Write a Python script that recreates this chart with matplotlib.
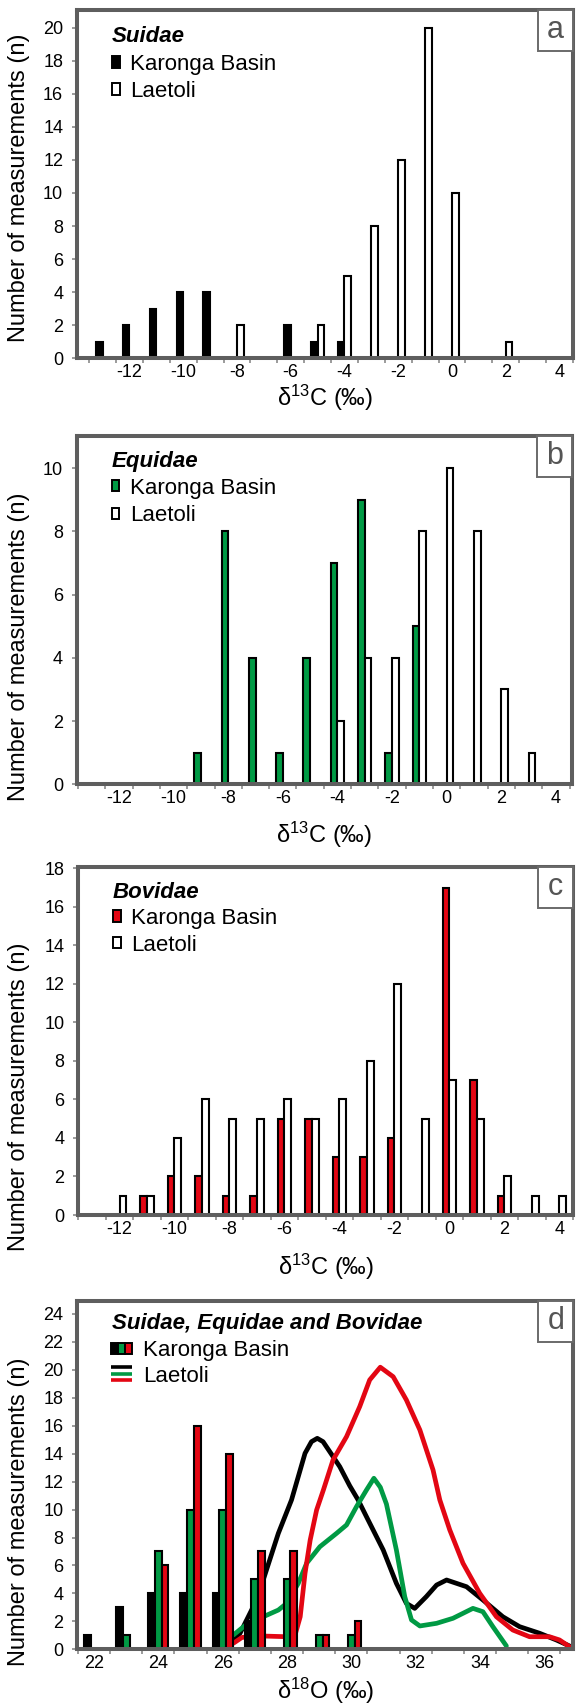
import matplotlib
matplotlib.use('Agg')
import matplotlib.pyplot as plt
from matplotlib.patches import Rectangle
from matplotlib.lines import Line2D

plt.rcParams['font.family'] = ['Liberation Sans', 'DejaVu Sans']
plt.rcParams['mathtext.fontset'] = 'custom'
plt.rcParams['mathtext.rm'] = 'Liberation Sans'
plt.rcParams['axes.unicode_minus'] = False

# ---------------- data ----------------
c13_bins = list(range(-13, 5))          # delta13C classes (permil)

suid_karonga = [1, 2, 3, 4, 4, 0, 0, 2, 1, 1, 0, 0, 0, 0, 0, 0, 0, 0]
suid_laetoli = [0, 0, 0, 0, 0, 2, 0, 0, 2, 5, 8, 12, 20, 10, 0, 1, 0, 0]

equid_karonga = [0, 0, 0, 0, 1, 8, 4, 1, 4, 7, 9, 1, 5, 0, 0, 0, 0, 0]
equid_laetoli = [0, 0, 0, 0, 0, 0, 0, 0, 0, 2, 4, 4, 8, 10, 8, 3, 1, 0]

bov_karonga = [0, 0, 1, 2, 2, 1, 1, 5, 5, 3, 3, 4, 0, 17, 7, 1, 0, 0]
bov_laetoli = [0, 1, 1, 4, 6, 5, 5, 6, 5, 6, 8, 12, 5, 7, 5, 2, 1, 1]

o18_bins = [22, 23, 24, 25, 26, 27, 28, 29, 30]
o18_suid_karonga = [1, 3, 4, 4, 4, 2, 0, 0, 0]
o18_equid_karonga = [0, 1, 7, 10, 10, 5, 5, 1, 1]
o18_bov_karonga = [0, 0, 6, 16, 14, 7, 7, 1, 2]

# Laetoli delta18O distribution curves
lae_suid_x = [26.33, 26.54, 26.95, 27.26, 27.73, 28.14, 28.35, 28.56, 28.76, 28.94,
              29.12, 29.33, 29.64, 29.95, 30.21, 30.47, 30.99, 31.40, 31.71, 31.97,
              32.33, 32.65, 32.96, 33.58, 34.09, 34.71, 35.23, 35.85, 36.37, 36.78]
lae_suid_y = [0.67, 1.15, 3.05, 4.96, 8.30, 10.69, 12.36, 14.03, 14.86, 15.10,
              14.86, 14.14, 13.07, 11.70, 10.69, 9.49, 7.11, 4.72, 3.29, 2.93,
              3.77, 4.60, 4.96, 4.48, 3.53, 2.33, 1.62, 1.15, 0.67, 0.24]

lae_equid_x = [26.33, 26.80, 27.26, 27.73, 27.99, 28.35, 28.61, 29.02, 29.54, 29.85,
               30.16, 30.47, 30.70, 30.90, 31.09, 31.40, 31.66, 31.87, 32.13, 32.65,
               33.16, 33.78, 34.09, 34.40, 34.82]
lae_equid_y = [1.02, 1.90, 2.33, 2.81, 3.29, 4.72, 6.16, 7.34, 8.30, 8.90,
               10.21, 11.40, 12.24, 11.60, 10.40, 7.11, 3.77, 2.10, 1.67, 1.86,
               2.22, 2.93, 2.69, 1.62, 0.24]

lae_bov_x = [26.33, 26.60, 27.26, 27.99, 28.25, 28.41, 28.56, 28.72, 28.92, 29.13,
             29.43, 29.85, 30.26, 30.57, 30.90, 31.30, 31.71, 32.13, 32.54, 32.75,
             33.06, 33.47, 33.99, 34.51, 35.02, 35.54, 36.16, 36.47, 36.78]
lae_bov_y = [0.43, 0.85, 0.95, 0.90, 1.02, 2.33, 5.44, 7.82, 9.97, 11.40,
             13.55, 15.22, 17.37, 19.28, 20.19, 19.51, 17.85, 15.70, 12.83, 10.69,
             8.54, 6.16, 4.01, 2.33, 1.38, 0.90, 0.90, 0.67, 0.19]

# ---------------- style ----------------
W, H = 576, 1703
SPINE = '#5e5e5e'
TICK = '#8a8a8a'
GREEN = '#009a44'
RED = '#e30613'
FS_TICK = 13
FS_LAB = 17
FS_LEG = 16

fig = plt.figure(figsize=(W / 100, H / 100), dpi=100)


def add_ax(left, top, right, bottom):
    ax = fig.add_axes([left / W, 1 - bottom / H, (right - left) / W, (bottom - top) / H])
    ax._px = (left, top, right, bottom)
    return ax


def style(ax, xlim, ylim, xmaj, ymaj, xminor):
    ax.set_xlim(*xlim)
    ax.set_ylim(*ylim)
    for s in ax.spines.values():
        s.set_color(SPINE)
        s.set_linewidth(2.9)
        s.set_zorder(5)
    ax.set_xticks(xmaj)
    ax.set_xticks(xminor, minor=True)
    ax.set_yticks(ymaj)
    ax.tick_params(axis='x', which='major', length=0, pad=4, labelsize=FS_TICK)
    ax.tick_params(axis='x', which='minor', length=3.6, width=1.2, color=TICK, direction='out')
    ax.tick_params(axis='y', which='major', length=3.6, width=1.2, color=TICK,
                   pad=6.3, labelsize=FS_TICK, direction='out')


def labels(ax, xlabel, xl_dy, yl_frac):
    left, top, right, bottom = ax._px
    ax.set_xlabel(xlabel, fontsize=FS_LAB, va='center')
    ax.xaxis.set_label_coords(0.5, -xl_dy / (bottom - top))
    ax.set_ylabel('Number of measurements (n)', fontsize=FS_LAB, va='center')
    ax.yaxis.set_label_coords((19.5 - left) / (right - left), yl_frac)


def panel_letter(ax, letter):
    left, top, right, bottom = ax._px
    w, h = 35, 41
    r = Rectangle(((right - w) / W, 1 - (top + h) / H), w / W, h / H,
                  transform=fig.transFigure, fc='white', ec='#6a6a6a', lw=1.4, zorder=10)
    fig.add_artist(r)
    fig.text((right - w / 2) / W, 1 - (top + h / 2) / H, letter, fontsize=22,
             color='#555555', ha='center', va='center', zorder=11)


def ftext(ax, dx, dy, s, **kw):
    left, top, _, _ = ax._px
    fig.text((left + dx) / W, 1 - (top + dy) / H, s, ha='left', va='baseline',
             fontsize=FS_LEG, zorder=11, **kw)


def frect(ax, dx, dyc, w, h, fc, ec='black', lw=1.4):
    left, top, _, _ = ax._px
    r = Rectangle(((left + dx) / W, 1 - (top + dyc + h / 2) / H), w / W, h / H,
                  transform=fig.transFigure, fc=fc, ec=ec, lw=lw, zorder=11)
    fig.add_artist(r)


def fline(ax, dx0, dx1, dy, color, lw):
    left, top, _, _ = ax._px
    y = 1 - (top + dy) / H
    fig.add_artist(Line2D([(left + dx0) / W, (left + dx1) / W], [y, y],
                          transform=fig.transFigure, color=color, lw=lw,
                          solid_capstyle='butt', zorder=11))


def legend_simple(ax, title, color, dys):
    ftext(ax, 34.5, dys[0] + 7.5, title, fontweight='bold', fontstyle='italic')
    frect(ax, 35, dys[1], 7.5, 11.5, color)
    ftext(ax, 53, dys[1] + 8, 'Karonga Basin')
    frect(ax, 35, dys[2], 7.5, 11.5, 'white')
    ftext(ax, 53, dys[2] + 8, 'Laetoli')


def pair_bars(ax, bins, kar, lae, kcolor, width=0.245):
    kx = [b for b, v in zip(bins, kar) if v > 0]
    kv = [v for v in kar if v > 0]
    lx = [b for b, v in zip(bins, lae) if v > 0]
    lv = [v for v in lae if v > 0]
    ax.bar(kx, kv, width=-width, align='edge', color=kcolor, edgecolor='black',
           linewidth=1.5, zorder=3)
    ax.bar(lx, lv, width=width, align='edge', color='white', edgecolor='black',
           linewidth=1.5, zorder=3)


c13_major = list(range(-12, 5, 2))
c13_minor = [v + 0.5 for v in range(-14, 5)]
c13_label = r'δ$\mathregular{^{13}}$C (‰)'

# ---------------- panel a ----------------
ax = add_ax(77, 10, 573, 358.3)
style(ax, (-13.95, 4.35), (0, 21.07), c13_major, list(range(0, 21, 2)), c13_minor)
pair_bars(ax, c13_bins, suid_karonga, suid_laetoli, 'black')
labels(ax, c13_label, 40, 0.49)
legend_simple(ax, 'Suidae', 'black', (24, 52, 79))
panel_letter(ax, 'a')

# ---------------- panel b ----------------
ax = add_ax(76.7, 436, 571.7, 784.3)
style(ax, (-13.55, 4.58), (0, 11.02), c13_major, list(range(0, 11, 2)), c13_minor)
pair_bars(ax, c13_bins, equid_karonga, equid_laetoli, GREEN)
labels(ax, c13_label, 50.7, 0.395)
legend_simple(ax, 'Equidae', GREEN, (24, 49.7, 77.3))
panel_letter(ax, 'b')

# ---------------- panel c ----------------
ax = add_ax(78.3, 866.7, 573, 1215)
style(ax, (-13.4, 4.5), (0, 18.08), c13_major, list(range(0, 19, 2)), c13_minor)
pair_bars(ax, c13_bins, bov_karonga, bov_laetoli, RED)
labels(ax, c13_label, 52, 0.34)
legend_simple(ax, 'Bovidae', RED, (23.3, 49.3, 76))
panel_letter(ax, 'c')

# ---------------- panel d ----------------
ax = add_ax(77.3, 1300.7, 573.3, 1649.3)
style(ax, (21.48, 36.9), (0, 24.95), list(range(22, 37, 2)), list(range(0, 25, 2)),
      [v + 0.5 for v in range(21, 37)])
bw = 0.21
for series, col, off in ((o18_suid_karonga, 'black', -bw),
                         (o18_equid_karonga, GREEN, 0.0),
                         (o18_bov_karonga, RED, bw)):
    xs = [b + off for b, v in zip(o18_bins, series) if v > 0]
    vs = [v for v in series if v > 0]
    ax.bar(xs, vs, width=bw, color=col, edgecolor='black', linewidth=1.5, zorder=3)
for xs, ys, col in ((lae_suid_x, lae_suid_y, 'black'),
                    (lae_equid_x, lae_equid_y, GREEN),
                    (lae_bov_x, lae_bov_y, RED)):
    ax.plot(xs, ys, color=col, lw=3.4, solid_joinstyle='round',
            solid_capstyle='round', zorder=2)
labels(ax, r'δ$\mathregular{^{18}}$O (‰)', 42, 0.394)
ftext(ax, 34.5, 21 + 7.5, 'Suidae, Equidae and Bovidae', fontweight='bold', fontstyle='italic')
frect(ax, 33.5, 47.6, 7, 11.5, 'black')
frect(ax, 40.5, 47.6, 7, 11.5, GREEN)
frect(ax, 47.5, 47.6, 7, 11.5, RED)
ftext(ax, 65.4, 47.6 + 8, 'Karonga Basin')
fline(ax, 33.5, 54.5, 66.6, 'black', 2.6)
fline(ax, 33.5, 54.5, 72.8, GREEN, 2.6)
fline(ax, 33.5, 54.5, 79.2, RED, 2.6)
ftext(ax, 65.4, 73 + 8, 'Laetoli')
panel_letter(ax, 'd')

fig.savefig('out.png', dpi=100)
